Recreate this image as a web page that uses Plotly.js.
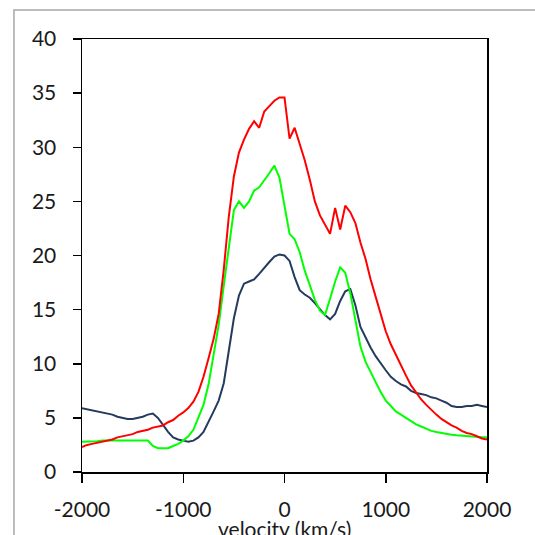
<!DOCTYPE html>
<html>
<head>
<meta charset="utf-8">
<script src="https://cdn.plot.ly/plotly-3.0.1.min.js"></script>
<style>
html,body{margin:0;padding:0;background:#fff;}
#chart{width:535px;height:535px;}
</style>
</head>
<body>
<div id="chart"></div>
<script>
var velocity = [-2000,-1950,-1900,-1850,-1800,-1750,-1700,-1650,-1600,-1550,-1500,-1450,-1400,-1350,-1300,-1250,-1200,-1150,-1100,-1050,-1000,-950,-900,-850,-800,-750,-700,-650,-600,-550,-500,-450,-400,-350,-300,-250,-200,-150,-100,-50,0,50,100,150,200,250,300,350,400,450,500,550,600,650,700,750,800,850,900,950,1000,1050,1100,1150,1200,1250,1300,1350,1400,1450,1500,1550,1600,1650,1700,1750,1800,1850,1900,1950,2000];

var navySeries = [5.9,5.8,5.7,5.6,5.5,5.4,5.3,5.1,5.0,4.9,4.9,5.0,5.1,5.3,5.4,5.0,4.3,3.7,3.2,3.0,2.9,2.8,2.9,3.2,3.7,4.6,5.6,6.6,8.2,11.2,14.2,16.3,17.4,17.6,17.8,18.3,18.9,19.4,19.9,20.1,20.0,19.5,18.0,16.8,16.4,16.1,15.6,15.0,14.5,14.1,14.6,15.8,16.7,16.9,15.4,13.4,12.4,11.5,10.7,10.0,9.4,8.8,8.4,8.1,7.9,7.5,7.3,7.2,7.1,6.9,6.8,6.6,6.4,6.1,6.0,6.0,6.1,6.1,6.2,6.1,6.0];

var redSeries = [2.3,2.5,2.6,2.7,2.8,2.9,3.0,3.2,3.3,3.4,3.5,3.7,3.8,3.9,4.1,4.2,4.3,4.6,4.8,5.2,5.5,5.9,6.5,7.4,8.8,10.5,12.3,14.6,18.7,23.6,27.3,29.5,30.7,31.7,32.4,31.8,33.3,33.8,34.3,34.6,34.6,30.8,31.8,30.3,28.8,27.0,25.0,23.7,22.8,22.0,24.4,22.4,24.6,24.0,23.0,21.2,19.7,17.8,16.2,14.5,13.0,11.8,10.8,9.8,8.9,8.0,7.3,6.7,6.2,5.7,5.3,4.9,4.6,4.3,4.1,3.8,3.6,3.5,3.3,3.1,3.0];

var greenSeries = [2.8,2.8,2.85,2.85,2.9,2.9,2.9,2.9,2.9,2.9,2.95,2.95,2.95,2.9,2.4,2.2,2.2,2.2,2.4,2.6,2.9,3.3,3.9,5.1,6.2,8.1,10.8,13.6,17.2,20.6,24.2,25.0,24.4,25.0,26.0,26.3,26.9,27.6,28.3,27.2,24.6,22.0,21.5,20.3,18.6,17.2,15.9,14.9,14.5,16.0,17.6,18.9,18.4,16.5,13.9,11.6,10.2,9.2,8.3,7.4,6.6,6.1,5.6,5.3,5.0,4.7,4.4,4.2,4.0,3.8,3.7,3.6,3.5,3.45,3.4,3.35,3.3,3.25,3.2,3.2,3.2];

var xTicks = [-2000,-1000,0,1000,2000];
var xTickText = ["-2000","-1000","0","1000","2000"];
var yTicks = [0,5,10,15,20,25,30,35,40];
var yTickText = ["0","5","10","15","20","25","30","35","40"];
var xTitle = "velocity (km/s)";

var font = {family: "Lato, 'Open Sans', sans-serif", size: 21, color: "#1a1a1a"};

var traces = [
  {x: velocity, y: navySeries, mode: "lines", line: {color: "#243b5e", width: 2}, name: "navy"},
  {x: velocity, y: greenSeries, mode: "lines", line: {color: "#00ff00", width: 2}, name: "green"},
  {x: velocity, y: redSeries, mode: "lines", line: {color: "#ff0000", width: 2}, name: "red"}
];

var layout = {
  width: 535, height: 535,
  margin: {l: 82, r: 48, t: 39, b: 63, pad: 0},
  paper_bgcolor: "#ffffff",
  plot_bgcolor: "#ffffff",
  showlegend: false,
  font: font,
  xaxis: {
    range: [-2000, 2000],
    tickmode: "array", tickvals: xTicks, ticktext: xTickText,
    ticks: "outside", ticklen: 9, tickwidth: 1.5, tickcolor: "#000",
    showline: true, linecolor: "#000", linewidth: 1.5, mirror: true,
    showgrid: false, zeroline: false,
    tickfont: font,
    ticklabelstandoff: 9
  },
  yaxis: {
    range: [0, 40],
    tickmode: "array", tickvals: yTicks, ticktext: yTickText,
    ticks: "outside", ticklen: 8, tickwidth: 1.5, tickcolor: "#000",
    showline: true, linecolor: "#000", linewidth: 1.5, mirror: true,
    showgrid: false, zeroline: false,
    tickfont: font,
    ticklabelstandoff: 12
  },
  annotations: [
    {text: xTitle, xref: "paper", yref: "paper", x: 0.5, y: -0.097,
     xanchor: "center", yanchor: "top", showarrow: false, font: font}
  ],
  shapes: [
    {type: "rect", xref: "paper", yref: "paper", x0: -0.168, x1: 1.3, y0: -0.3, y1: 1.067,
     line: {color: "#a6a6a6", width: 1.5}, fillcolor: "rgba(0,0,0,0)", layer: "below"}
  ]
};

Plotly.newPlot("chart", traces, layout, {staticPlot: true, displayModeBar: false});
</script>
</body>
</html>
